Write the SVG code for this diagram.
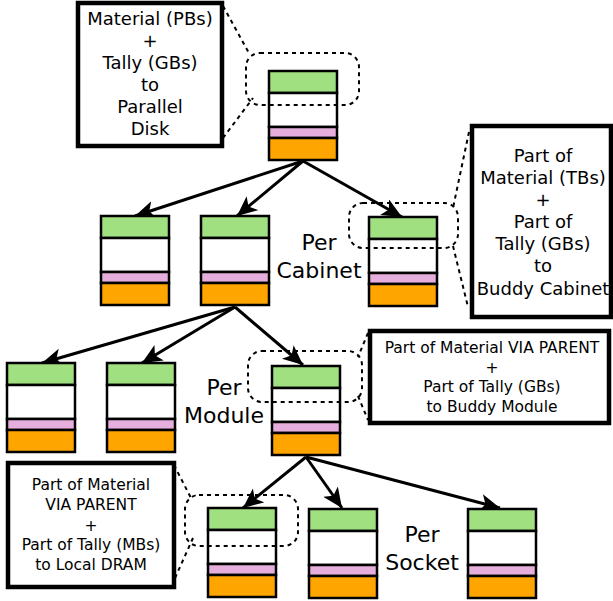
<svg xmlns="http://www.w3.org/2000/svg" width="613" height="601" viewBox="0 0 613 601">
<style>
.g{fill:#a0e080;stroke:#000;stroke-width:2.5}
.w{fill:#fff;stroke:#000;stroke-width:2.5}
.p{fill:#e6aedc;stroke:#000;stroke-width:2.5}
.o{fill:#ffa500;stroke:#000;stroke-width:2.5}
.box{fill:#fff;stroke:#000;stroke-width:4.5}
.dash{fill:none;stroke:#000;stroke-width:2;stroke-dasharray:4,4}
.arr{stroke:#000;stroke-width:3;fill:none;marker-end:url(#ah)}
text{font-family:"DejaVu Sans","Liberation Sans",sans-serif;fill:#000;text-anchor:middle}
.t18{font-size:18px}
.t16{font-size:15.5px}
.t22{font-size:22px}
</style>
<defs>
<marker id="ah" markerUnits="userSpaceOnUse" markerWidth="22" markerHeight="20" refX="20" refY="9" orient="auto">
<path d="M0,0 L20,9 L0,18 L5,9 Z" fill="#000"/>
</marker>
<g id="stack">
<rect class="g" x="0" y="0" width="68" height="22"/>
<rect class="w" x="0" y="22" width="68" height="34"/>
<rect class="p" x="0" y="56" width="68" height="11"/>
<rect class="o" x="0" y="67" width="68" height="22"/>
</g>
</defs>
<rect width="613" height="601" fill="#fff"/>

<g id="connectors">
<line class="arr" x1="303" y1="161" x2="135" y2="216"/>
<line class="arr" x1="303" y1="161" x2="237" y2="216"/>
<line class="arr" x1="303" y1="161" x2="402" y2="217"/>
<line class="arr" x1="235" y1="307" x2="42" y2="363"/>
<line class="arr" x1="235" y1="307" x2="142" y2="363"/>
<line class="arr" x1="235" y1="307" x2="303" y2="365"/>
<line class="arr" x1="306" y1="457" x2="243" y2="508"/>
<line class="arr" x1="306" y1="457" x2="342" y2="508"/>
<line class="arr" x1="306" y1="457" x2="500" y2="508"/>
<line class="dash" x1="223" y1="6" x2="250" y2="55"/>
<line class="dash" x1="223" y1="138" x2="253" y2="98"/>
<line class="dash" x1="469" y1="132" x2="453" y2="208"/>
<line class="dash" x1="453" y1="246" x2="468" y2="307"/>
<line class="dash" x1="368" y1="333" x2="358" y2="357"/>
<line class="dash" x1="358" y1="396" x2="368" y2="420"/>
<line class="dash" x1="174" y1="465" x2="192" y2="500"/>
<line class="dash" x1="175" y1="578" x2="193" y2="538"/>
</g>

<g id="stack-top"><use href="#stack" x="269" y="71"/></g>
<g id="cab1"><use href="#stack" x="101" y="216"/></g>
<g id="cab2"><use href="#stack" x="201" y="216"/></g>
<g id="cab3"><use href="#stack" x="369" y="217"/></g>
<g id="mod1"><use href="#stack" x="7" y="363"/></g>
<g id="mod2"><use href="#stack" x="107" y="363"/></g>
<g id="mod3"><use href="#stack" x="272" y="366"/></g>
<g id="sock1"><use href="#stack" x="208" y="508"/></g>
<g id="sock2"><use href="#stack" x="309" y="509"/></g>
<g id="sock3"><use href="#stack" x="468" y="509"/></g>

<g id="highlights">
<rect class="dash" x="246" y="53" width="113" height="52" rx="14"/>
<rect class="dash" x="349" y="203" width="109" height="45" rx="14"/>
<rect class="dash" x="248" y="351" width="114" height="51" rx="14"/>
<rect class="dash" x="185" y="495" width="113" height="51" rx="14"/>
</g>

<g id="note-disk">
<rect class="box" x="78" y="3" width="144" height="143"/>
<text class="t18" x="150" y="25">Material (PBs)</text>
<text class="t18" x="150" y="47">+</text>
<text class="t18" x="150" y="69">Tally (GBs)</text>
<text class="t18" x="150" y="91">to</text>
<text class="t18" x="150" y="113">Parallel</text>
<text class="t18" x="150" y="135">Disk</text>
</g>

<g id="note-cabinet">
<rect class="box" x="472" y="126" width="139" height="191"/>
<text class="t18" x="543" y="162">Part of</text>
<text class="t18" x="543" y="184">Material (TBs)</text>
<text class="t18" x="543" y="206">+</text>
<text class="t18" x="543" y="228">Part of</text>
<text class="t18" x="543" y="250">Tally (GBs)</text>
<text class="t18" x="543" y="272">to</text>
<text class="t18" x="543" y="295">Buddy Cabinet</text>
</g>

<g id="note-module">
<rect class="box" x="370" y="331" width="239" height="92"/>
<text class="t16" x="492" y="353">Part of Material VIA PARENT</text>
<text class="t16" x="492" y="373">+</text>
<text class="t16" x="492" y="392">Part of Tally (GBs)</text>
<text class="t16" x="492" y="412">to Buddy Module</text>
</g>

<g id="note-socket">
<rect class="box" x="8" y="463" width="166" height="124"/>
<text class="t16" x="91" y="490">Part of Material</text>
<text class="t16" x="91" y="510">VIA PARENT</text>
<text class="t16" x="91" y="531">+</text>
<text class="t16" x="91" y="550">Part of Tally (MBs)</text>
<text class="t16" x="91" y="570">to Local DRAM</text>
</g>

<g id="labels">
<text class="t22" x="319" y="250">Per</text>
<text class="t22" x="319" y="278">Cabinet</text>
<text class="t22" x="224" y="395">Per</text>
<text class="t22" x="224" y="423">Module</text>
<text class="t22" x="422" y="542">Per</text>
<text class="t22" x="422" y="570">Socket</text>
</g>
</svg>
